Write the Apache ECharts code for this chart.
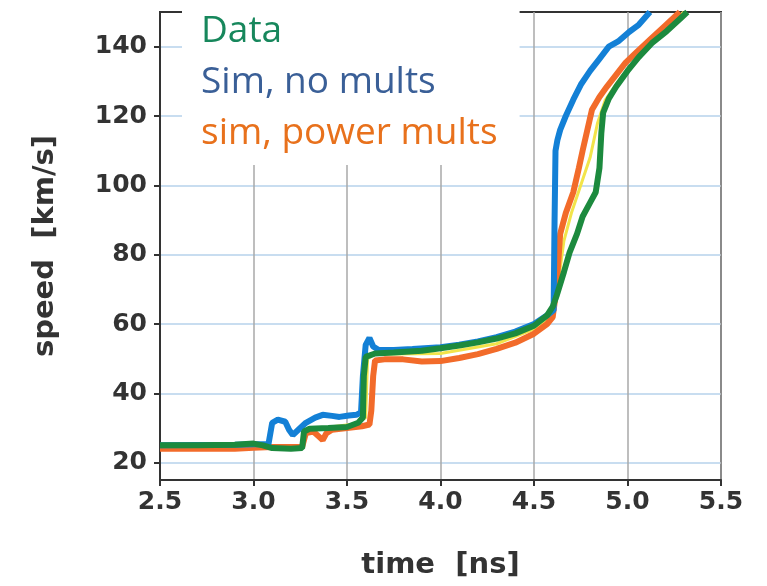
<!DOCTYPE html>
<html>
<head>
<meta charset="utf-8">
<script src="https://cdn.jsdelivr.net/npm/echarts@6/dist/echarts.min.js"></script>
<style>html,body{margin:0;padding:0;background:#fff;}#c{width:767px;height:586px;}</style>
</head>
<body>
<div id="c"></div>
<script>
// Tick labels
const xTicks = [2.5, 3.0, 3.5, 4.0, 4.5, 5.0, 5.5];
const yTicks = [20, 40, 60, 80, 100, 120, 140];

// Data (green)
const dataT = [2.50,2.70,2.90,3.00,3.05,3.10,3.20,3.26,3.27,3.30,3.40,3.50,3.56,3.585,3.59,3.60,3.65,3.75,3.90,4.00,4.10,4.20,4.30,4.40,4.50,4.57,4.60,4.62,4.66,4.69,4.73,4.76,4.80,4.83,4.85,4.86,4.87,4.90,4.94,5.00,5.06,5.13,5.21,5.28,5.32];
const dataV = [25.0,25.0,25.2,25.5,25.0,24.2,24.0,24.2,29.0,29.8,30.0,30.3,31.5,33,45,50.5,51.5,51.8,52.3,53,53.8,54.7,55.8,57.3,59.5,62.5,65,68,75,80.6,86,91,95,98,105,115,121,125,128.5,133,137,141,144.5,148,150];

// Sim, no mults (blue)
const simNoT = [2.50,2.90,3.00,3.08,3.10,3.13,3.17,3.19,3.21,3.24,3.28,3.33,3.37,3.42,3.46,3.51,3.55,3.575,3.585,3.60,3.62,3.64,3.67,3.75,3.85,4.00,4.10,4.20,4.30,4.40,4.50,4.57,4.605,4.61,4.615,4.625,4.64,4.67,4.71,4.75,4.80,4.85,4.90,4.95,5.01,5.06,5.12];
const simNoV = [25,25.2,25.3,25.3,31.5,32.4,31.8,29.5,28,29.5,31.5,33,33.8,33.5,33.2,33.6,33.8,34.5,45,54,56,53.5,52.5,52.5,52.8,53.3,54,55,56.2,57.8,60,62.5,64,90,110,113,116,120,124.7,129,133,136.5,140,141.5,144.3,146.3,150];

// sim, power mults (orange)
const simPowT = [2.50,2.90,3.00,3.10,3.20,3.26,3.28,3.32,3.35,3.37,3.39,3.42,3.50,3.58,3.62,3.63,3.64,3.65,3.70,3.80,3.90,4.00,4.10,4.20,4.30,4.40,4.50,4.57,4.60,4.62,4.64,4.67,4.71,4.74,4.76,4.81,4.85,4.89,4.99,5.05,5.12,5.20,5.28];
const simPowV = [24,24,24.3,24.5,24.5,24.5,28.5,29,27.5,26.5,28.5,29.5,30,30.5,31,35,45,49.5,49.8,49.8,49.2,49.3,50.2,51.3,52.8,54.6,57.2,60,62,70,86,92,98,105,110,121.8,125.5,128.5,135.4,138.5,142,146,150];

// thin yellow trace
const yelT = [2.50,3.26,3.28,3.40,3.55,3.60,3.61,3.65,4.00,4.30,4.50,4.60,4.63,4.66,4.70,4.75,4.80,4.84,4.88,4.95,5.00,5.10,5.20,5.30];
const yelV = [24.5,24.5,29.5,30.2,31.2,33,50,51.3,51.5,54.3,58.5,63,72,84,92,100,108,118,124.5,130,133.5,140,145,150];

const zip = (a, b) => a.map((t, i) => [t, b[i]]);

const chart = echarts.init(document.getElementById('c'), null, {renderer: 'canvas'});
const tickFont = {fontFamily: 'DejaVu Sans', fontWeight: 'bold', fontSize: 25, color: '#333'};
const nameFont = {fontFamily: 'DejaVu Sans', fontWeight: 'bold', fontSize: 29, color: '#333'};

chart.setOption({
  animation: false,
  backgroundColor: '#fff',
  grid: {left: 160, right: 46, top: 12, bottom: 106, show: true, borderColor: '#333', borderWidth: 2, backgroundColor: 'transparent', outerBoundsMode: 'none'},
  xAxis: {
    type: 'value', min: 2.5, max: 5.5, interval: 0.5,
    name: 'time  [ns]', nameLocation: 'middle', nameGap: 71,
    nameTextStyle: nameFont,
    axisLine: {show: true, onZero: false, lineStyle: {color: '#333', width: 2}},
    axisTick: {show: true, length: 6, lineStyle: {color: '#333', width: 2}},
    axisLabel: Object.assign({margin: 10, formatter: v => v.toFixed(1)}, tickFont),
    splitLine: {show: true, lineStyle: {color: '#a8a8a8', width: 1.5}}
  },
  yAxis: {
    type: 'value', min: 15, max: 150, interval: 20,
    name: 'speed  [km/s]', nameLocation: 'middle', nameGap: 100,
    nameTextStyle: nameFont,
    axisLine: {show: true, onZero: false, lineStyle: {color: '#333', width: 2}},
    axisTick: {show: true, length: 6, customValues: yTicks, lineStyle: {color: '#333', width: 2}},
    axisLabel: Object.assign({margin: 13, customValues: yTicks}, tickFont),
    splitLine: {show: true, lineStyle: {color: '#c8ddf0', width: 2}}
  },
  legend: {
    orient: 'vertical', left: 182, top: 0,
    icon: 'none', itemWidth: 0, itemGap: 0,
    backgroundColor: '#fff', padding: [6, 22, 6, 14],
    textStyle: {fontFamily: 'Open Sans', fontSize: 37, lineHeight: 51},
    data: [
      {name: 'Data', textStyle: {color: '#17875c'}},
      {name: 'Sim, no mults', textStyle: {color: '#3a5f97'}},
      {name: 'sim, power mults', textStyle: {color: '#e8711c'}}
    ]
  },
  series: [
    {name: 'yellow', type: 'line', data: zip(yelT, yelV), showSymbol: false, lineStyle: {color: '#f2e44a', width: 3}, z: 1},
    {name: 'sim, power mults', type: 'line', data: zip(simPowT, simPowV), showSymbol: false, color: '#f26b2a', lineStyle: {width: 6}, z: 2},
    {name: 'Sim, no mults', type: 'line', data: zip(simNoT, simNoV), showSymbol: false, color: '#1380d6', lineStyle: {width: 6}, z: 3},
    {name: 'Data', type: 'line', data: zip(dataT, dataV), showSymbol: false, color: '#1c8a3e', lineStyle: {width: 6}, z: 4}
  ]
});
</script>
</body>
</html>
